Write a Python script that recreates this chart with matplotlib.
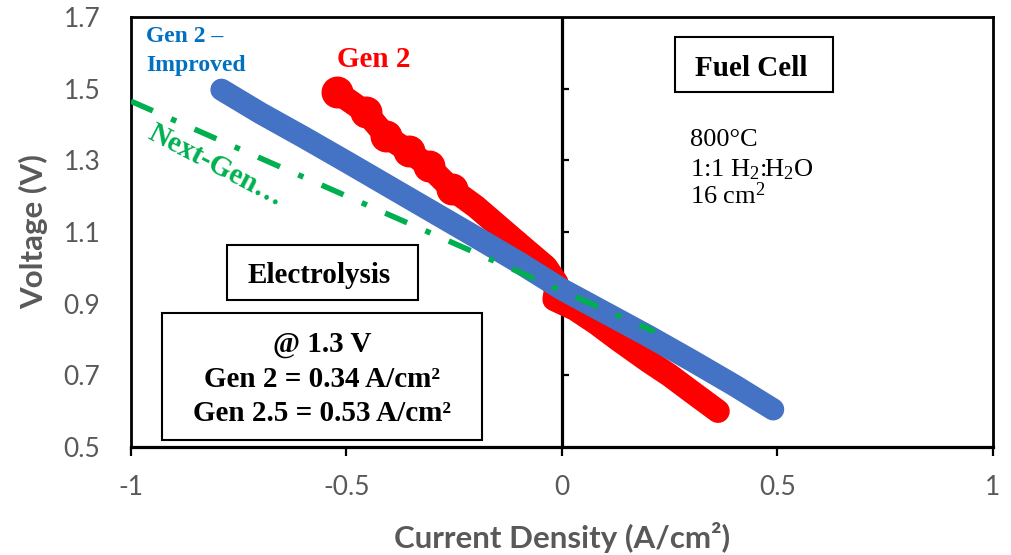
import matplotlib
matplotlib.use('Agg')
import matplotlib.pyplot as plt
from matplotlib.patches import Rectangle

plt.rcParams['mathtext.fontset'] = 'custom'
plt.rcParams['mathtext.rm'] = 'Liberation Serif'

# --- data ---
red_x = [-0.522, -0.455, -0.408, -0.355, -0.309, -0.255, -0.200, -0.146, -0.084, -0.037,
         -0.012, -0.018, 0.030, 0.080, 0.130, 0.200, 0.250, 0.300, 0.362]
red_y = [1.490, 1.434, 1.367, 1.325, 1.283, 1.219, 1.171, 1.115, 1.051, 1.003,
         0.958, 0.912, 0.885, 0.845, 0.800, 0.740, 0.700, 0.655, 0.600]

blue_x = [-0.790, -0.700, -0.600, -0.500, -0.400, -0.300, -0.200, -0.100, 0.000,
          0.100, 0.200, 0.300, 0.400, 0.490]
blue_y = [1.497, 1.432, 1.365, 1.296, 1.226, 1.156, 1.086, 1.015, 0.940,
          0.875, 0.810, 0.742, 0.672, 0.605]

green_x = [-1.0, 0.215]
green_y = [1.465, 0.822]

x_ticks = [-1, -0.5, 0, 0.5, 1]
x_labels = ['-1', '-0.5', '0', '0.5', '1']
y_ticks = [0.5, 0.7, 0.9, 1.1, 1.3, 1.5, 1.7]
y_labels = ['0.5', '0.7', '0.9', '1.1', '1.3', '1.5', '1.7']
inner_ticks = [0.7, 0.9, 1.1, 1.3, 1.5]

GRAY = '#595959'
SERIF = 'Liberation Serif'
SANS = 'Lato'

fig = plt.figure(figsize=(10.12, 5.55), dpi=100)
ax = fig.add_axes([0.1294, 0.1946, 0.8518, 0.7748])
ax.set_xlim(-1, 1)
ax.set_ylim(0.5, 1.7)

# vertical axis crossing at x = 0 (drawn behind the data)
ax.axvline(0, color='black', lw=2.3, zorder=1)
sec = ax.secondary_yaxis(0.5)
sec.set_yticks(inner_ticks)
sec.set_yticklabels([])
sec.tick_params(direction='out', length=5, width=1.6)
sec.spines['left'].set_visible(False)

# curves
ax.plot(red_x, red_y, color='#FF0000', lw=17, solid_capstyle='round',
        solid_joinstyle='round', marker='o', markersize=22, markevery=slice(0, 6), zorder=2)
ax.plot(blue_x, blue_y, color='#4472C4', lw=16, solid_capstyle='round',
        solid_joinstyle='round', zorder=3)
ax.plot(green_x, green_y, color='#00B050', lw=4, dashes=(4.3, 3.6, 1.0, 3.6),
        dash_capstyle='butt', zorder=4)

# axes styling
for s in ['top', 'left', 'right']:
    ax.spines[s].set_linewidth(2)
ax.spines['bottom'].set_linewidth(2.3)

ax.set_xticks(x_ticks)
ax.set_xticklabels(x_labels)
ax.set_yticks(y_ticks)
ax.set_yticklabels(y_labels)
ax.tick_params(axis='x', direction='out', length=6.5, width=1.6, pad=14,
               labelsize=19, labelcolor=GRAY)
ax.tick_params(axis='y', length=0, pad=22, labelsize=19, labelcolor=GRAY)
for lab in ax.get_xticklabels() + ax.get_yticklabels():
    lab.set_fontfamily(SANS)

ax.set_xlabel('Current Density (A/cm²)', fontsize=22.5, fontweight='bold',
              color=GRAY, family=SANS)
ax.xaxis.set_label_coords(0.5, -0.175)
ax.set_ylabel('Voltage (V)', fontsize=22.5, fontweight='bold', color=GRAY, family=SANS)
ax.yaxis.set_label_coords(-0.096, 0.5)

# annotations
ax.text(-0.965, 1.630, 'Gen 2 –', color='#0070C0', fontsize=17, fontweight='bold',
        family=SERIF, va='baseline')
ax.text(-0.965, 1.549, 'Improved', color='#0070C0', fontsize=17, fontweight='bold',
        family=SERIF, va='baseline')
ax.text(-0.522, 1.560, 'Gen 2', color='#FF0000', fontsize=21, fontweight='bold',
        family=SERIF, va='baseline')
ax.text(-0.964, 1.362, 'Next-Gen…', color='#00B050', fontsize=21, fontweight='bold',
        family=SERIF, rotation=-27.5, rotation_mode='anchor', ha='left', va='baseline')

box_kw = dict(fill=True, facecolor='white', edgecolor='black', lw=1.5, zorder=5)
ax.add_patch(Rectangle((-0.777, 0.911), 0.443, 0.154, **box_kw))
ax.text(-0.564, 0.959, 'Electrolysis', fontsize=21, fontweight='bold', family=SERIF,
        ha='center', va='baseline', zorder=6)

ax.add_patch(Rectangle((-0.928, 0.520), 0.742, 0.355, **box_kw))
for yb, txt in [(0.766, '@ 1.3 V'), (0.668, 'Gen 2 = 0.34 A/cm²'),
                (0.573, 'Gen 2.5 = 0.53 A/cm²')]:
    ax.text(-0.557, yb, txt, fontsize=21, fontweight='bold', family=SERIF,
            ha='center', va='baseline', zorder=6)

ax.add_patch(Rectangle((0.262, 1.490), 0.367, 0.154, **box_kw))
ax.text(0.439, 1.535, 'Fuel Cell', fontsize=21, fontweight='bold', family=SERIF,
        ha='center', va='baseline', zorder=6)

for yb, txt in [(1.339, '800°C'), (1.255, r'1:1 H$\mathregular{_2}$:H$\mathregular{_2}$O'),
                (1.177, r'16 cm$\mathregular{^2}$')]:
    ax.text(0.297, yb, txt, fontsize=19, family=SERIF, ha='left', va='baseline')

fig.savefig('out.png', dpi=100)
